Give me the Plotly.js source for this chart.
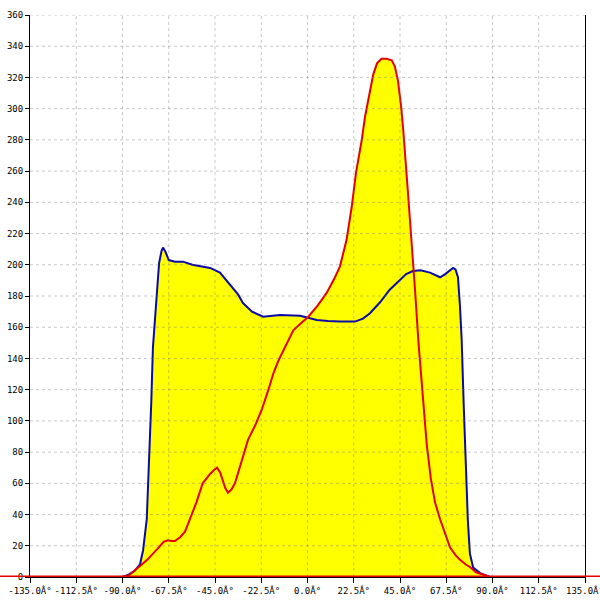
<!DOCTYPE html>
<html>
<head>
<meta charset="utf-8">
<script src="https://cdn.plot.ly/plotly-3.0.1.min.js"></script>
<style>html,body{margin:0;padding:0;background:#fff;}#chart{width:600px;height:600px;}</style>
</head>
<body>
<div id="chart"></div>
<script>
// Angle (degrees) and values
const blueX = [-135, -90, -87, -84, -81.5, -80, -78.2, -77, -76, -75.2, -74, -73.2, -72.2, -71, -70.3, -69, -67.5, -64.5, -60.6, -56, -52.3, -47.4, -42.6, -37.7, -33.8, -31.4, -27, -21.6, -13.4, -3.6, 4.5, 10, 15.8, 23.1, 27, 30.4, 35.3, 40, 45, 48, 51.3, 55, 59.6, 62, 64.5, 67, 69.5, 70.8, 72, 73.2, 74.2, 75, 76, 77, 78, 79, 80.6, 84, 88.8, 135];
const blueY = [0, 0, 1.5, 4, 8, 17, 37, 75, 112, 147, 168, 179, 201, 209, 211, 208, 203, 202, 202, 200, 199, 198, 195, 187, 181, 175.5, 170, 166.7, 167.8, 167.4, 164.6, 164, 163.6, 163.6, 165.5, 169, 176, 184, 190, 194, 196, 196.5, 195, 193.5, 192, 194, 197, 198, 197, 192, 173, 152, 110, 70, 36.5, 15, 6, 2.5, 0, 0];

const redX = [-135, -90, -87, -84, -81.5, -78, -75, -73, -70, -68, -66, -64.5, -62, -59.6, -57.2, -54, -51, -49, -47.4, -45.5, -44, -42.5, -41.6, -40, -38.7, -37, -35.3, -33.5, -31.9, -30.4, -28.9, -25.5, -22.3, -19, -16.6, -14, -11.8, -9.3, -6.9, -3.6, 0.4, 5, 9.3, 13, 15.8, 19, 21.5, 23.6, 26.4, 28, 30.4, 32, 33.8, 36, 38.5, 41, 42.5, 44, 45.5, 46.6, 49, 50.7, 52.3, 54, 56, 58, 60, 62, 64.5, 67, 69.3, 72, 74.2, 77, 79, 82, 85.4, 88.8, 135];
const redY = [0, 0, 1, 4, 7, 11, 15, 18, 22.5, 23.5, 23, 23, 25.5, 29, 37, 48, 60, 63.5, 66, 68.5, 70, 67, 63, 57, 54, 56, 60, 68, 76, 82, 88, 97, 107, 120, 130.5, 139, 145, 151.8, 158, 162, 166.7, 174, 182, 191, 199, 216, 237, 259, 280, 295, 312, 322, 329, 332, 332, 331, 327, 318, 302, 286, 244, 216, 184, 150, 115, 85, 63, 48, 37, 27, 19, 14, 11, 8, 6.4, 3, 1.3, 0, 0];

const xTickVals = [-135, -112.5, -90, -67.5, -45, -22.5, 0, 22.5, 45, 67.5, 90, 112.5, 135];
const xTickText = ["-135.0Â°", "-112.5Â°", "-90.0Â°", "-67.5Â°", "-45.0Â°", "-22.5Â°", "0.0Â°", "22.5Â°", "45.0Â°", "67.5Â°", "90.0Â°", "112.5Â°", "135.0Â°"];
const yTickVals = [0, 20, 40, 60, 80, 100, 120, 140, 160, 180, 200, 220, 240, 260, 280, 300, 320, 340, 360];

const yellow = '#ffff00';
const blue = '#0a0aa8';
const red = '#e60000';

const traces = [
  {x: blueX, y: blueY, type: 'scatter', mode: 'lines', fill: 'tozeroy', fillcolor: yellow, line: {width: 0, color: 'rgba(0,0,0,0)'}, hoverinfo: 'skip'},
  {x: redX, y: redY, type: 'scatter', mode: 'lines', fill: 'tozeroy', fillcolor: yellow, line: {width: 0, color: 'rgba(0,0,0,0)'}, hoverinfo: 'skip'},
  {x: blueX, y: blueY, type: 'scatter', mode: 'lines', line: {width: 2, color: blue}},
  {x: redX, y: redY, type: 'scatter', mode: 'lines', line: {width: 2, color: red}}
];

const gridColor = 'rgba(110,110,110,0.38)';
const shapes = [];
xTickVals.slice(1, -1).forEach(v => shapes.push({
  type: 'line', xref: 'x', yref: 'paper', x0: v, x1: v, y0: 0, y1: 1,
  line: {color: gridColor, width: 1, dash: '3px,3px'}, layer: 'above'
}));
yTickVals.slice(1).forEach(v => shapes.push({
  type: 'line', xref: 'paper', yref: 'y', x0: 0, x1: 1, y0: v, y1: v,
  line: {color: gridColor, width: 1, dash: '3px,3px'}, layer: 'above'
}));
// red baseline spanning the whole picture width
shapes.push({type: 'line', xref: 'paper', yref: 'y', x0: -0.06, x1: 1.06, y0: 0, y1: 0,
  line: {color: red, width: 3}, layer: 'above'});

const tickFont = {family: 'DejaVu Sans Mono, monospace', size: 9, color: '#000'};

const layout = {
  width: 600, height: 600,
  margin: {l: 30, r: 15, t: 15, b: 23, pad: 0},
  paper_bgcolor: '#fff', plot_bgcolor: '#fff',
  showlegend: false,
  xaxis: {
    range: [-135, 135], tickvals: xTickVals, ticktext: xTickText,
    showgrid: false, zeroline: false, showline: true, linecolor: '#000', linewidth: 1,
    ticks: 'outside', ticklen: 5, tickcolor: '#000', tickfont: tickFont, fixedrange: true,
    ticklabeloverflow: 'allow', automargin: false
  },
  yaxis: {
    range: [0, 360], tickvals: yTickVals,
    showgrid: false, zeroline: false, showline: true, mirror: true, linecolor: '#000', linewidth: 1,
    ticks: 'outside', ticklen: 4, tickcolor: '#000', tickfont: tickFont, fixedrange: true,
    ticklabeloverflow: 'allow', automargin: false
  },
  shapes: shapes
};

Plotly.newPlot('chart', traces, layout, {displayModeBar: false, staticPlot: true});
</script>
</body>
</html>
